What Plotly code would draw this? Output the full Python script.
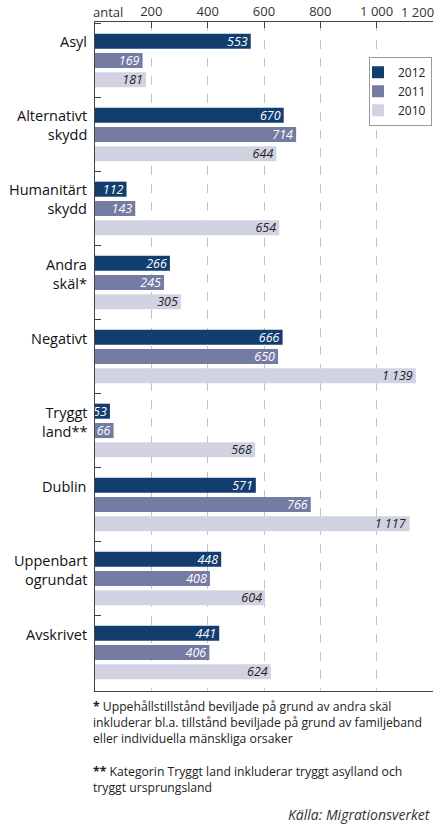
import plotly.graph_objects as go

categories = ["Asyl", "Alternativt<br>skydd", "Humanitärt<br>skydd", "Andra<br>skäl*", "Negativt",
              "Tryggt<br>land**", "Dublin", "Uppenbart<br>ogrundat", "Avskrivet"]
v2012 = [553, 670, 112, 266, 666, 53, 571, 448, 441]
v2011 = [169, 714, 143, 245, 650, 66, 766, 408, 406]
v2010 = [181, 644, 654, 305, 1139, 568, 1117, 604, 624]
series_names = ["2012", "2011", "2010"]
tick_vals = [200, 400, 600, 800, 1000, 1200]
tick_text = ["200", "400", "600", "800", "1 000", "1 200"]

colors = ["#123e6f", "#747ca4", "#d1d3e3"]
text_colors = ["white", "white", "#222222"]
FONT = "Open Sans"

def fmt(v):
    return f"{v:,}".replace(",", " ")

fig = go.Figure()
for name, vals, c, tc in zip(series_names, [v2012, v2011, v2010], colors, text_colors):
    fig.add_trace(go.Bar(
        y=categories, x=vals, orientation="h", name=name,
        marker=dict(color=c, line=dict(width=0)),
        text=[f"<i>{fmt(v)}</i>" for v in vals],
        textposition="inside", insidetextanchor="end", constraintext="none",
        textangle=0,
        textfont=dict(family=FONT, size=12.5, color=tc),
    ))

fig.update_layout(
    width=447, height=827,
    margin=dict(l=95, r=14, t=22, b=136),
    barmode="group", bargap=0.217, bargroupgap=0.22,
    plot_bgcolor="white", paper_bgcolor="white",
    font=dict(family=FONT, size=13, color="#222"),
    legend=dict(x=0.997, xanchor="right", y=0.948, yanchor="top",
                bordercolor="#999", borderwidth=1, bgcolor="white",
                font=dict(size=12, color="#222"), tracegroupgap=0,
                itemwidth=30, indentation=-12),
    showlegend=True,
)
# last tick label is drawn separately (right-aligned at the axis end, as in the original)
fig.update_xaxes(
    side="top", range=[0, 1200], tickvals=tick_vals, ticktext=tick_text[:-1] + [""],
    showline=True, linecolor="#444", linewidth=1, mirror=True,
    ticks="inside", ticklen=6, tickcolor="#444",
    automargin=False,
    showgrid=True, gridcolor="#c4c4c4", griddash="dash", gridwidth=1,
    zeroline=False, tickfont=dict(size=13, color="#333"),
)
fig.update_yaxes(
    autorange=False, range=[8.52, -0.52], showticklabels=False,
    showline=True, linecolor="#444", linewidth=1, automargin=False,
    ticks="inside", ticklen=6, tickcolor="#444", tickson="boundaries",
    showgrid=False, zeroline=False,
)

fig.add_annotation(text=tick_text[-1], xref="x", yref="paper", x=tick_vals[-1], y=1,
                   xanchor="right", yanchor="bottom", xshift=3, yshift=-1, showarrow=False,
                   font=dict(size=13, color="#333"))

# "antal" header at the top-left
fig.add_annotation(text="antal", xref="paper", yref="paper", x=0, y=1, xanchor="left",
                   yanchor="bottom", xshift=-4, yshift=-1, showarrow=False,
                   font=dict(size=13, color="#333"))

# category labels
for cat in categories:
    fig.add_annotation(text=cat, xref="paper", yref="y", x=0, y=cat, xanchor="right",
                       yanchor="top", xshift=-6, yshift=30, showarrow=False, align="right",
                       font=dict(size=14.5, color="#111"))

foot1 = ("<b>*</b> Uppehållstillstånd beviljade på grund av andra skäl<br>"
         "inkluderar bl.a. tillstånd beviljade på grund av familjeband<br>"
         "eller individuella mänskliga orsaker")
foot2 = ("<b>**</b> Kategorin Tryggt land inkluderar tryggt asylland och<br>"
         "tryggt ursprungsland")
fig.add_annotation(text=foot1, xref="paper", yref="paper", x=0, y=0, xanchor="left",
                   yanchor="top", xshift=-4, yshift=-5, showarrow=False, align="left",
                   font=dict(size=12.2, color="#222"))
fig.add_annotation(text=foot2, xref="paper", yref="paper", x=0, y=0, xanchor="left",
                   yanchor="top", xshift=-4, yshift=-70, showarrow=False, align="left",
                   font=dict(size=12.2, color="#222"))
fig.add_annotation(text="<i>Källa: Migrationsverket</i>", xref="paper", yref="paper",
                   x=1, y=0, xanchor="right", yanchor="top", yshift=-112, showarrow=False,
                   font=dict(size=14, color="#333"))

fig.write_html("out.html", config={"displayModeBar": False},
               post_script="document.body.style.margin='0';document.body.style.overflow='hidden';")
